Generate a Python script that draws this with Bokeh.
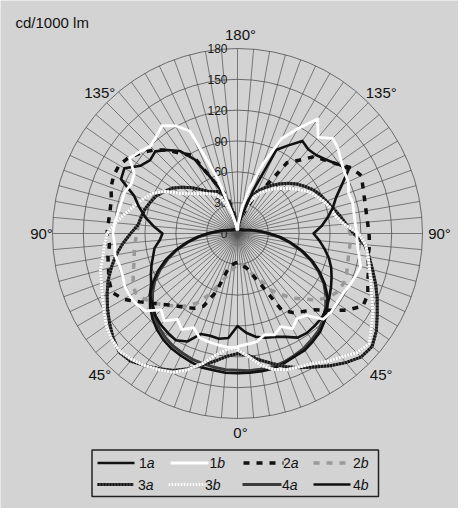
import numpy as np
from bokeh.plotting import figure
from bokeh.core.properties import value
from bokeh.embed import file_html
from bokeh.resources import INLINE

# gamma angle of each reading: 0 = straight down, 180 = straight up
gamma = list(range(0, 181, 5))

# luminous intensity in cd/1000 lm, left half (L) and right half (R) of the diagram
c1a_L = [90, 102, 104, 103, 104, 116, 120, 118, 116, 113, 108, 104, 97, 93, 89, 85, 82, 76, 73,
         82, 91, 99, 107, 125, 127, 115, 111, 113, 106, 98, 83, 58, 42, 28, 17, 8, 3]
c1a_R = [90, 97, 102, 105, 107, 111, 117, 118, 117, 116, 113, 109, 105, 101, 97, 92, 86, 80, 74,
         82, 89, 96, 102, 112, 125, 118, 112, 108, 107, 110, 99, 90, 45, 20, 10, 5, 3]
c1b_L = [111, 111, 110, 109, 108, 101, 108, 102, 111, 105, 117, 120, 121, 121, 119, 119, 121, 120, 121,
         120, 118, 117, 117, 114, 116, 128, 124, 120, 123, 128, 121, 110, 58, 20, 10, 5, 3]
c1b_R = [110, 108, 107, 102, 105, 100, 107, 101, 104, 118, 119, 118, 118, 120, 122, 124, 120, 117, 116,
         115, 115, 116, 115, 119, 120, 123, 128, 131, 122, 136, 118, 102, 72, 46, 25, 10, 3]
c2a_L = [28, 29, 31, 36, 60, 78, 84, 88, 92, 98, 106, 116, 128, 135, 133, 130, 128, 125, 127,
         126, 126, 127, 131, 133, 133, 129, 122, 115, 106, 95, 88, 58, 45, 35, 20, 8, 3]
c2a_R = [28, 30, 32, 35, 43, 56, 86, 94, 99, 105, 116, 130, 141, 140, 135, 132, 129, 129, 128,
         127, 127, 128, 130, 133, 128, 118, 111, 106, 93, 84, 50, 40, 26, 18, 10, 5, 3]
c2b_L = [30, 33, 38, 44, 53, 66, 78, 86, 92, 99, 105, 111, 115, 112, 108, 104, 102, 100, 98,
         97, 95, 93, 90, 87, 82, 77, 70, 63, 56, 50, 47, 45, 40, 30, 18, 8, 3]
c2b_R = [29, 30, 31, 36, 42, 48, 63, 72, 82, 90, 101, 108, 113, 114, 113, 111, 110, 110, 110,
         106, 101, 96, 92, 89, 85, 80, 75, 69, 63, 57, 51, 45, 37, 27, 17, 8, 3]
c3a_L = [117, 120, 126, 133, 140, 147, 152, 157, 162, 163, 158, 152, 146, 140, 134, 127, 120, 112, 104,
         97, 95, 93, 90, 87, 82, 77, 70, 63, 56, 50, 47, 45, 40, 30, 18, 8, 3]
c3a_R = [117, 119, 125, 131, 138, 144, 150, 157, 164, 170, 171, 165, 157, 150, 143, 136, 130, 124, 113,
         106, 101, 96, 92, 89, 85, 80, 75, 69, 63, 57, 51, 45, 37, 27, 17, 8, 3]
c3b_L = [111, 113, 120, 131, 141, 149, 153, 157, 160, 162, 160, 156, 150, 145, 141, 138, 133, 130, 127,
         119, 111, 104, 98, 92, 82, 68, 60, 55, 51, 47, 44, 38, 28, 18, 10, 5, 3]
c3b_R = [113, 120, 130, 137, 141, 143, 146, 152, 157, 164, 167, 159, 152, 144, 138, 133, 129, 125, 118,
         104, 97, 94, 90, 85, 81, 74, 68, 62, 57, 51, 46, 40, 31, 22, 12, 6, 3]
c4a_L = [133, 133, 132, 131, 130, 128, 126, 123, 119, 114, 108, 101, 93, 83, 72, 61, 49, 38, 28,
         20, 15, 11, 9, 7, 6, 5, 5, 5, 4, 4, 4, 4, 4, 4, 4, 4, 4]
c4a_R = [133, 134, 134, 134, 133, 131, 129, 126, 123, 118, 112, 105, 97, 87, 76, 64, 52, 41, 30,
         22, 16, 12, 9, 7, 6, 5, 5, 5, 4, 4, 4, 4, 4, 4, 4, 4, 4]
c4b_L = [136, 136, 135, 135, 133, 131, 129, 126, 122, 117, 111, 104, 95, 85, 74, 62, 50, 39, 29,
         21, 16, 12, 10, 8, 7, 6, 6, 5, 5, 5, 4, 4, 4, 4, 4, 4, 4]
c4b_R = [136, 136, 136, 136, 134, 132, 131, 128, 125, 120, 114, 107, 98, 88, 77, 65, 53, 42, 31,
         23, 17, 13, 10, 8, 7, 6, 6, 5, 5, 5, 4, 4, 4, 4, 4, 4, 4]

ring_values = [0, 30, 60, 90, 120, 150, 180]
ring_labels = ["0", "30", "60", "90", "120", "150", "180"]
angle_values = [0, 45, 90, 135, 180]
angle_labels = ["0°", "45°", "90°", "135°", "180°"]
unit_label = "cd/1000 lm"

curve_names = ["1a", "1b", "2a", "2b", "3a", "3b", "4a", "4b"]
curves = {
    "1a": (c1a_L, c1a_R), "1b": (c1b_L, c1b_R),
    "2a": (c2a_L, c2a_R), "2b": (c2b_L, c2b_R),
    "3a": (c3a_L, c3a_R), "3b": (c3b_L, c3b_R),
    "4a": (c4a_L, c4a_R), "4b": (c4b_L, c4b_R),
}

# ---- look ----
BG = "#d3d3d3"
GRID = "#505050"
FONT = value("Liberation Sans")
styles = {
    "1a": [("#111111", 2.6, "solid")],
    "1b": [("#ffffff", 2.8, "solid")],
    "2a": [("#111111", 3.5, "6 7")],
    "2b": [("#999999", 3.5, "6 7")],
    "3a": [("#5a5a5a", 3.0, "solid"), ("#151515", 3.0, "2 1")],
    "3b": [("#bcbcbc", 3.0, "solid"), ("#ffffff", 3.0, "2 1")],
    "4a": [("#3c3c3c", 3.0, "solid")],
    "4b": [("#111111", 2.6, "solid")],
}
draw_order = ["4a", "4b", "2b", "2a", "3a", "3b", "1a", "1b"]

# picture geometry (pixels of the picture)
PX = 185 / 180          # pixels per cd/1000 lm
CX, CY = 237, 233       # pole of the diagram
W, H = 458, 508
R_MAX = 180


def at(px, py):
    return (px - CX) / PX, (CY - py) / PX


p = figure(width=W, height=H, output_backend="svg", toolbar_location=None,
           x_range=((0 - CX) / PX, (W - CX) / PX),
           y_range=((CY - H) / PX, CY / PX),
           x_axis_type=None, y_axis_type=None, min_border=0)
p.background_fill_color = BG
p.border_fill_color = BG
p.outline_line_color = None

# spokes every 5 degrees and rings every 30
spokes = np.radians(np.arange(0, 360, 5))
p.segment(x0=0, y0=0, x1=R_MAX * np.sin(spokes), y1=R_MAX * np.cos(spokes),
          line_color=GRID, line_width=0.7)
p.circle(x=0, y=0, radius=ring_values[1:], fill_color=None,
         line_color=GRID, line_width=0.8)

# ring labels, left of the vertical axis
p.text(x=[-10 / PX] * len(ring_values), y=ring_values, text=ring_labels,
       text_font=FONT, text_font_size="12px", text_color="#1a1a1a",
       text_align="right", text_baseline="middle")

# angle labels round the outside, on both halves
lab_r = 199 / PX
ang_x, ang_y, ang_t = [], [], []
for a, t in zip(angle_values, angle_labels):
    sides = [1] if a in (0, 180) else [-1, 1]
    for s in sides:
        ang_x.append(s * lab_r * np.sin(np.radians(a)))
        ang_y.append(-lab_r * np.cos(np.radians(a)))
        ang_t.append(t)
p.text(x=ang_x, y=ang_y, text=ang_t, x_offset=3, text_font=FONT,
       text_font_size="15px", text_color="#111111",
       text_align="center", text_baseline="middle")

ux, uy = at(15, 22)
p.text(x=[ux], y=[uy], text=[unit_label], text_font=FONT, text_font_size="15px",
       text_color="#111111", text_align="left", text_baseline="alphabetic")

# the curves: left half from 180 down to 0, then right half from 0 up to 180
g = np.radians(gamma)
for name in draw_order:
    left, right = curves[name]
    left = np.array(left, dtype=float)
    right = np.array(right, dtype=float)
    xs = np.concatenate([(-left * np.sin(g))[::-1], right * np.sin(g)])
    ys = np.concatenate([(-left * np.cos(g))[::-1], -right * np.cos(g)])
    for color, width, dash in styles[name]:
        p.line(xs, ys, line_color=color, line_width=width, line_dash=dash,
               line_join="round")

# legend box
lx0, ly0 = at(91.5, 449.5)
lx1, ly1 = at(378, 496)
p.quad(left=[lx0], right=[lx1], top=[ly0], bottom=[ly1], fill_color=None,
       line_color="#222222", line_width=1.5)

row_y = [462.5, 462.5, 462.5, 462.5, 484, 484, 484, 484]
swatch_x0 = [97, 170, 243, 313, 97, 168, 242, 313]
swatch_x1 = [134, 208, 283, 348, 133, 205, 281, 350]
text_x = [138.5, 209, 282.5, 352.5, 137.5, 204.5, 281.5, 352.5]
for name, yy, s0, s1, tx in zip(curve_names, row_y, swatch_x0, swatch_x1, text_x):
    x0, y0 = at(s0, yy)
    x1, _ = at(s1, yy)
    for color, width, dash in styles[name]:
        p.line([x0, x1], [y0, y0], line_color=color, line_width=width, line_dash=dash)
    dx, dy = at(tx, yy)
    p.text(x=[dx], y=[dy], text=[name[0]], text_font=FONT, text_font_size="14px",
           text_color="#111111", text_align="left", text_baseline="middle")
    p.text(x=[dx], y=[dy], text=[name[1]], x_offset=7.8, text_font=FONT,
           text_font_size="14px", text_font_style="italic", text_color="#111111",
           text_align="left", text_baseline="middle")

open("out.html", "w").write(file_html(p, INLINE))
